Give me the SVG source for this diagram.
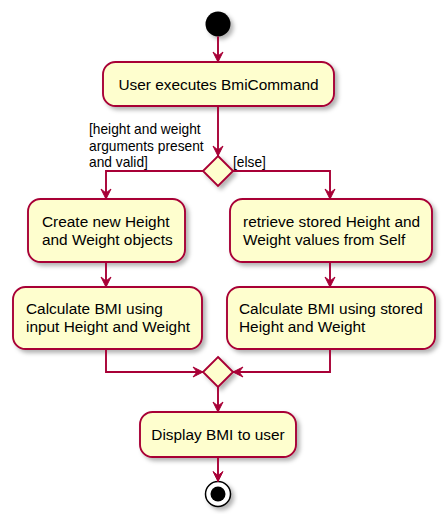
<svg xmlns="http://www.w3.org/2000/svg" width="447" height="521" viewBox="0 0 447 521">
<defs>
<filter id="sh" x="-20%" y="-20%" width="150%" height="150%">
<feDropShadow dx="3" dy="3" stdDeviation="2" flood-color="#000" flood-opacity="0.3"/>
</filter>
<marker id="ah" viewBox="-11 -6 12 12" refX="0" refY="0" markerWidth="12" markerHeight="12" markerUnits="userSpaceOnUse" orient="auto">
<path d="M0,0 L-10,-5 L-6,0 L-10,5 Z" fill="#A80036" stroke="#A80036" stroke-width="1"/>
</marker>
</defs>
<style>
.box{fill:#FEFECE;stroke:#A80036;stroke-width:1.9;filter:url(#sh)}
.t{font-family:"Liberation Sans",Arial,sans-serif;font-size:15.4px;fill:#000}
.g{font-family:"Liberation Sans",Arial,sans-serif;font-size:13.75px;fill:#000}
.c{fill:none;stroke:#A80036;stroke-width:1.9;marker-end:url(#ah)}
</style>
<rect width="447" height="521" fill="#FFFFFF"/>
<g id="start"><circle cx="218" cy="24" r="12.5" fill="#000" filter="url(#sh)"/></g>
<g id="n1"><rect class="box" x="103" y="62" width="231" height="44" rx="12.5"/><text class="t" x="218.5" y="90" text-anchor="middle">User executes BmiCommand</text></g>
<g id="d1"><polygon class="box" points="218,156 233,171 218,186 203,171"/></g>
<g id="n2"><rect class="box" x="28" y="199" width="157" height="63" rx="12.5"/><text class="t" x="42" y="227">Create new Height</text><text class="t" x="42" y="245">and Weight objects</text></g>
<g id="n3"><rect class="box" x="230" y="199" width="202" height="63" rx="12.5"/><text class="t" x="243" y="227">retrieve stored Height and</text><text class="t" x="243" y="245">Weight values from Self</text></g>
<g id="n4"><rect class="box" x="13" y="287" width="189" height="62" rx="12.5"/><text class="t" x="26" y="314">Calculate BMI using</text><text class="t" x="26" y="332">input Height and Weight</text></g>
<g id="n5"><rect class="box" x="227" y="287" width="208" height="62" rx="12.5"/><text class="t" x="239" y="314">Calculate BMI using stored</text><text class="t" x="239" y="332">Height and Weight</text></g>
<g id="d2"><polygon class="box" points="218,357 233,372 218,387 203,372"/></g>
<g id="n6"><rect class="box" x="140" y="412" width="156" height="45" rx="12.5"/><text class="t" x="218" y="440" text-anchor="middle">Display BMI to user</text></g>
<g id="end"><circle cx="218" cy="494" r="12.5" fill="#FFFFFF" stroke="#000" stroke-width="1.5" filter="url(#sh)"/><circle cx="218" cy="494" r="7.5" fill="#000"/></g>
<g id="connectors">
<path class="c" d="M218,36.5 L218,62"/>
<path class="c" d="M218,106 L218,156"/>
<path class="c" d="M203,171 L106,171 L106,199"/>
<path class="c" d="M233,171 L330,171 L330,199"/>
<path class="c" d="M106,262 L106,287"/>
<path class="c" d="M330,262 L330,287"/>
<path class="c" d="M106,349 L106,372 L203,372"/>
<path class="c" d="M330,349 L330,372 L233,372"/>
<path class="c" d="M218,387 L218,412"/>
<path class="c" d="M218,457 L218,481.5"/>
<text class="g" x="89" y="134">[height and weight</text>
<text class="g" x="89" y="151">arguments present</text>
<text class="g" x="89" y="167">and valid]</text>
<text class="g" x="233" y="167">[else]</text>
</g>
</svg>
